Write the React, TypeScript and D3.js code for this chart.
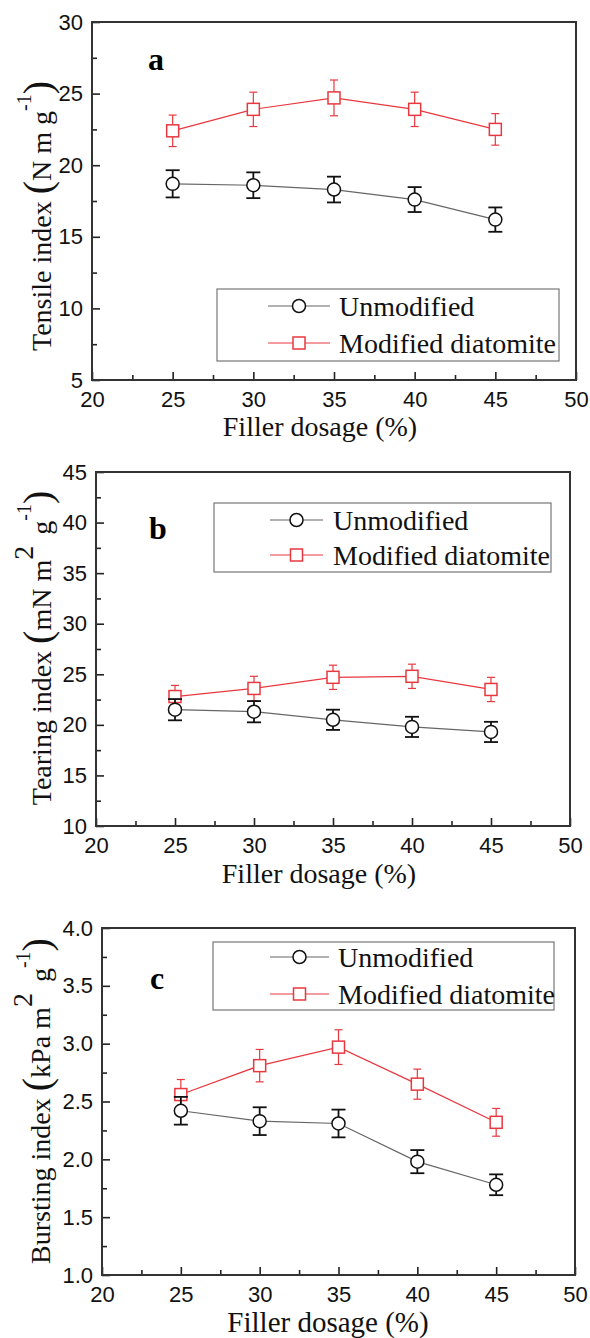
import React, { useEffect, useRef } from "react";
import * as d3 from "d3";

const dosage = [25, 30, 35, 40, 45];
const xTicks = [20, 25, 30, 35, 40, 45, 50];
const seriesNames = ["Unmodified", "Modified diatomite"];

const tensileUnmod = [18.7, 18.6, 18.3, 17.6, 16.2];
const tensileUnmodErr = [0.95, 0.9, 0.9, 0.87, 0.85];
const tensileMod = [22.4, 23.9, 24.7, 23.9, 22.5];
const tensileModErr = [1.1, 1.2, 1.25, 1.2, 1.1];

const tearingUnmod = [21.5, 21.3, 20.5, 19.8, 19.3];
const tearingUnmodErr = [1.05, 1.05, 1.0, 1.0, 1.0];
const tearingMod = [22.8, 23.6, 24.7, 24.8, 23.5];
const tearingModErr = [1.1, 1.2, 1.2, 1.2, 1.2];

const burstUnmod = [2.42, 2.33, 2.31, 1.98, 1.78];
const burstUnmodErr = [0.12, 0.12, 0.12, 0.1, 0.09];
const burstMod = [2.56, 2.81, 2.97, 2.65, 2.32];
const burstModErr = [0.13, 0.14, 0.15, 0.13, 0.12];

const SANS = "'Liberation Sans', Arial, sans-serif";
const SERIF = "'Liberation Serif', 'Times New Roman', serif";
const RED = "#e8383f";

function drawPanel(svg, p) {
  const { left, right, top, bottom } = p.box;
  const x = d3.scaleLinear().domain([20, 50]).range([left, right]);
  const y = d3.scaleLinear().domain(p.yDomain).range([bottom, top]);
  const yMajor = d3.range(p.yDomain[0], p.yDomain[1] + p.yStep / 2, p.yStep);
  const yMinor = d3.range(p.yDomain[0] + p.yStep / 2, p.yDomain[1], p.yStep);
  const xMinor = d3.range(22.5, 50, 5);

  const g = svg.append("g");

  // minor ticks
  g.append("g")
    .attr("transform", `translate(0,${bottom})`)
    .call(d3.axisBottom(x).tickValues(xMinor).tickSize(-5).tickFormat(() => ""));
  g.append("g")
    .attr("transform", `translate(${left},0)`)
    .call(d3.axisLeft(y).tickValues(yMinor).tickSize(-5).tickFormat(() => ""));

  // major ticks + labels
  g.append("g")
    .attr("transform", `translate(0,${bottom})`)
    .call(d3.axisBottom(x).tickValues(xTicks).tickSize(-8).tickPadding(11).tickFormat(d3.format("d")));
  g.append("g")
    .attr("transform", `translate(${left},0)`)
    .call(d3.axisLeft(y).tickValues(yMajor).tickSize(-8).tickPadding(9).tickFormat(d3.format(p.yFormat)));

  g.selectAll(".domain").remove();
  g.selectAll(".tick line").attr("stroke", "#222").attr("stroke-width", 1.6);
  g.selectAll(".tick text")
    .attr("fill", "#111")
    .style("font-family", SANS)
    .style("font-size", "22px");

  // frame
  g.append("rect")
    .attr("x", left).attr("y", top)
    .attr("width", right - left).attr("height", bottom - top)
    .attr("fill", "none").attr("stroke", "#333").attr("stroke-width", 2);

  const line = d3.line().x(d => x(d[0])).y(d => y(d[1]));

  const series = [
    { vals: p.mod, errs: p.modErr, color: RED, lineColor: RED, cap: 4, ew: 1.2, shape: "square" },
    { vals: p.unmod, errs: p.unmodErr, color: "#111", lineColor: "#666", cap: 7, ew: 1.8, shape: "circle" }
  ];

  series.forEach(s => {
    const pts = dosage.map((d, i) => [d, s.vals[i], s.errs[i]]);
    g.append("path")
      .datum(pts)
      .attr("d", line)
      .attr("fill", "none")
      .attr("stroke", s.lineColor)
      .attr("stroke-width", 1.2);

    const eb = g.selectAll(null).data(pts).enter().append("g").attr("stroke", s.color).attr("stroke-width", s.ew);
    eb.append("line")
      .attr("x1", d => x(d[0])).attr("x2", d => x(d[0]))
      .attr("y1", d => y(d[1] - d[2])).attr("y2", d => y(d[1] + d[2]));
    eb.append("line")
      .attr("x1", d => x(d[0]) - s.cap).attr("x2", d => x(d[0]) + s.cap)
      .attr("y1", d => y(d[1] + d[2])).attr("y2", d => y(d[1] + d[2]));
    eb.append("line")
      .attr("x1", d => x(d[0]) - s.cap).attr("x2", d => x(d[0]) + s.cap)
      .attr("y1", d => y(d[1] - d[2])).attr("y2", d => y(d[1] - d[2]));

    pts.forEach(d => drawMarker(g, s.shape, x(d[0]), y(d[1]), s.color));
  });

  // panel letter
  svg.append("text")
    .attr("x", p.letter.x).attr("y", p.letter.y)
    .style("font-family", SERIF).style("font-weight", "bold").style("font-size", "32px")
    .text(p.letter.t);

  // legend
  const L = p.legend;
  svg.append("rect")
    .attr("x", L.x0).attr("y", L.y0)
    .attr("width", L.x1 - L.x0).attr("height", L.y1 - L.y0)
    .attr("fill", "white").attr("stroke", "#777").attr("stroke-width", 1.2);
  series.slice().reverse().forEach((s, i) => {
    const ry = L.rows[i];
    svg.append("line")
      .attr("x1", L.lineX0).attr("x2", L.lineX1).attr("y1", ry).attr("y2", ry)
      .attr("stroke", s.lineColor).attr("stroke-width", 1.2);
    drawMarker(svg, s.shape, (L.lineX0 + L.lineX1) / 2, ry, s.color);
    svg.append("text")
      .attr("x", L.textX).attr("y", ry + 10)
      .style("font-family", SERIF).style("font-size", "28px").attr("fill", "#111")
      .text(seriesNames[i]);
  });

  // x label
  svg.append("text")
    .attr("x", p.xLabel.x).attr("y", p.xLabel.y)
    .attr("text-anchor", "middle")
    .style("font-family", SERIF).style("font-size", p.xLabel.size + "px").attr("fill", "#111")
    .text("Filler dosage (%)");

  // y label with big parens and superscripts
  const yl = svg.append("text")
    .attr("transform", `translate(${p.yLabel.x},${p.yLabel.y}) rotate(-90)`)
    .attr("text-anchor", "middle")
    .style("font-family", SERIF).attr("fill", "#111");
  let rise = 0;
  p.yLabel.parts.forEach(part => {
    const r = part.rise || 0;
    yl.append("tspan")
      .attr("dy", rise - r)
      .attr("dx", part.dx || 0)
      .style("font-size", part.size + "px")
      .text(part.t);
    rise = r;
  });
}

function drawMarker(g, shape, cx, cy, color) {
  if (shape === "circle") {
    g.append("circle")
      .attr("cx", cx).attr("cy", cy).attr("r", 6.5)
      .attr("fill", "white").attr("stroke", color).attr("stroke-width", 1.5);
  } else {
    g.append("rect")
      .attr("x", cx - 6).attr("y", cy - 6).attr("width", 12).attr("height", 12)
      .attr("fill", "white").attr("stroke", color).attr("stroke-width", 1.5);
  }
}

const panels = [
  {
    box: { left: 92, right: 576, top: 22, bottom: 380 },
    yDomain: [5, 30], yStep: 5, yFormat: "d",
    unmod: tensileUnmod, unmodErr: tensileUnmodErr, mod: tensileMod, modErr: tensileModErr,
    letter: { t: "a", x: 148, y: 70 },
    legend: { x0: 217, x1: 559, y0: 289, y1: 361, rows: [306, 343], lineX0: 268, lineX1: 330, textX: 339 },
    xLabel: { x: 320, y: 436, size: 28 },
    yLabel: {
      x: 51, y: 216,
      parts: [
        { t: "Tensile index ", size: 28 },
        { t: "(", size: 40 },
        { t: "N m g", size: 28 },
        { t: "-1", size: 20, rise: 20 },
        { t: ")", size: 40 }
      ]
    }
  },
  {
    box: { left: 96, right: 570, top: 472, bottom: 826 },
    yDomain: [10, 45], yStep: 5, yFormat: "d",
    unmod: tearingUnmod, unmodErr: tearingUnmodErr, mod: tearingMod, modErr: tearingModErr,
    letter: { t: "b", x: 149, y: 539 },
    legend: { x0: 214, x1: 551, y0: 503, y1: 572, rows: [520, 555], lineX0: 270, lineX1: 323, textX: 333 },
    xLabel: { x: 319, y: 883, size: 28 },
    yLabel: {
      x: 51, y: 648,
      parts: [
        { t: "Tearing index ", size: 28 },
        { t: "(", size: 40 },
        { t: "mN m", size: 28 },
        { t: "2", size: 28, rise: 18 },
        { t: " g", size: 28, dx: 4 },
        { t: "-1", size: 20, rise: 20 },
        { t: ")", size: 40 }
      ]
    }
  },
  {
    box: { left: 102, right: 575, top: 928, bottom: 1275 },
    yDomain: [1, 4], yStep: 0.5, yFormat: ".1f",
    unmod: burstUnmod, unmodErr: burstUnmodErr, mod: burstMod, modErr: burstModErr,
    letter: { t: "c", x: 150, y: 989 },
    legend: { x0: 213, x1: 554, y0: 942, y1: 1010, rows: [957, 994], lineX0: 270, lineX1: 329, textX: 338 },
    xLabel: { x: 328, y: 1332, size: 29 },
    yLabel: {
      x: 50, y: 1101,
      parts: [
        { t: "Bursting index ", size: 28 },
        { t: "(", size: 40 },
        { t: "kPa m", size: 28 },
        { t: "2", size: 28, rise: 18 },
        { t: " g", size: 28, dx: 4 },
        { t: "-1", size: 20, rise: 20 },
        { t: ")", size: 40 }
      ]
    }
  }
];

const App = () => {
  const ref = useRef(null);

  useEffect(() => {
    const svg = d3.select(ref.current);
    svg.selectAll("*").remove();
    panels.forEach(p => drawPanel(svg, p));
  }, []);

  return (
    <svg
      ref={ref}
      width={590}
      height={1338}
      style={{ position: "absolute", left: 0, top: 0, background: "white" }}
    />
  );
};

export default App;
